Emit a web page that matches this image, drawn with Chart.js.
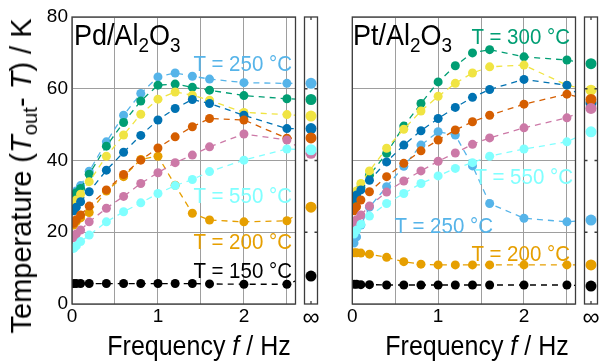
<!DOCTYPE html>
<html>
<head>
<meta charset="utf-8">
<script src="https://cdn.jsdelivr.net/npm/chart.js@4.4.1/dist/chart.umd.min.js"></script>
<style>
  body { margin: 0; background: #fff; }
  #fig { position: relative; width: 603px; height: 363px; overflow: hidden; font-family: "Liberation Sans", Arial, sans-serif; }
  canvas { position: absolute; top: 0; }
  .lbl { position: absolute; white-space: nowrap; }
  .ann { font-size: 20.5px; line-height: 20px; text-align: right; transform: scaleY(1.12); }
  .panel { font-size: 27px; line-height: 27px; transform: scaleY(1.08); }
  .sb { font-size: 70%; position: relative; top: 7px; }
  .xt { font-size: 25px; line-height: 25px; top: 333px; transform: translateX(-50%) scaleY(1.1); }
  .yt { font-size: 29px; line-height: 29px; left: 23px; top: 176px; transform: translate(-50%, -50%) rotate(-90deg); }
  .yt .so { font-size: 70%; position: relative; top: 6px; }
</style>
</head>
<body>
<div id="fig">
  <canvas id="pdMain" width="300" height="340" style="left:0"></canvas>
  <canvas id="pdInf" width="24" height="340" style="left:299px"></canvas>
  <canvas id="ptMain" width="234" height="340" style="left:346px"></canvas>
  <canvas id="ptInf" width="24" height="340" style="left:579px"></canvas>

  <div class="lbl panel" style="left:74px;top:22px">Pd/Al<span class="sb">2</span>O<span class="sb">3</span></div>
  <div class="lbl panel" style="left:353px;top:22px">Pt/Al<span class="sb">2</span>O<span class="sb">3</span></div>

  <div class="lbl ann" style="right:311px;top:53px;color:#56B4E9">T = 250 °C</div>
  <div class="lbl ann" style="right:311px;top:185px;color:#80FFFF">T = 550 °C</div>
  <div class="lbl ann" style="right:311px;top:231px;color:#E69F00">T = 200 °C</div>
  <div class="lbl ann" style="right:311px;top:260px;color:#000">T = 150 °C</div>

  <div class="lbl ann" style="right:33px;top:26px;color:#009E73">T = 300 °C</div>
  <div class="lbl ann" style="right:30px;top:166px;color:#80FFFF">T = 550 °C</div>
  <div class="lbl ann" style="right:110px;top:215px;color:#56B4E9">T = 250 °C</div>
  <div class="lbl ann" style="right:33px;top:243px;color:#E69F00">T = 200 °C</div>

  <div class="lbl xt" style="left:199px">Frequency <i>f</i> / Hz</div>
  <div class="lbl xt" style="left:477px">Frequency <i>f</i> / Hz</div>
  <div class="lbl yt">Temperature (<i>T</i><span class="so">out</span>- <i>T</i>) / K</div>
</div>
<script>
// modulation frequency in Hz
const freq = [0.02, 0.05, 0.1, 0.2, 0.4, 0.6, 0.8, 1.0, 1.2, 1.4, 1.6, 2.0, 2.5];
const temps = [150, 200, 250, 300, 350, 400, 450, 500, 550];
const colors = ['#000000', '#E69F00', '#56B4E9', '#009E73', '#F0E442', '#0072B2', '#D55E00', '#CC79A7', '#80FFFF'];
const yTicks = [20, 40, 60];
// the f = infinity sample sits past the end of the main axis, so only its line stub shows there
const infPos = 2.75;

// Pd/Al2O3, T_out - T in K
const pd150 = [5.7, 5.7, 5.7, 5.7, 5.7, 5.7, 5.7, 5.7, 5.7, 5.7, 5.6, 5.5, 5.5];
const pd200 = [22, 23, 24, 25.5, 31.5, 35.5, 40.3, 41.2, 33.1, 25.3, 23.4, 22.9, 23.2];
const pd250 = [30.5, 31.5, 33, 37, 45.2, 52.6, 58.7, 63.3, 64.4, 63.5, 62.7, 61.7, 61.5];
const pd300 = [30, 31, 32.2, 36.2, 44, 50.6, 56.6, 61, 61.3, 60.4, 59.6, 58.1, 57.2];
const pd350 = [28, 29, 30.6, 34.1, 41.2, 47.1, 52.9, 57.1, 59.1, 58.2, 56.8, 53.4, 52.8];
const pd400 = [26, 27, 28.5, 31.3, 37.3, 42.3, 47, 51.3, 54.5, 57, 55.9, 52.6, 48.9];
const pd450 = [22.5, 23.5, 24.8, 27.3, 31.8, 36.1, 40.1, 43.5, 46.6, 49.4, 51.7, 51.3, 46.2];
const pd500 = [18.5, 19.5, 20.6, 22.9, 26.7, 30, 33.6, 36.6, 39.4, 41.5, 43.8, 47.4, 45.7];
const pd550 = [15.5, 16.2, 17.4, 19.2, 22.9, 25.7, 28.2, 30.8, 33, 34.7, 36.9, 40.1, 43.2];
const pdInf = [7.8, 27, 61.5, 57, 52.4, 48.9, 46.3, 42, 43];

// Pt/Al2O3, T_out - T in K
const pt150 = [5.5, 5.5, 5.4, 5.4, 5.3, 5.3, 5.3, 5.3, 5.3, 5.3, 5.3, 5.3, 5.3];
const pt200 = [14.3, 14.3, 14.2, 13.9, 13, 11.8, 11.1, 10.9, 10.9, 10.9, 10.9, 10.9, 10.9];
const pt250 = [17, 18.7, 22, 27, 32.7, 38.4, 44.3, 48, 47.1, 38.5, 28, 23.9, 22.9];
const pt300 = [29, 30.5, 32.5, 35.9, 42, 49.6, 55.9, 61.9, 66.4, 70, 70.9, 68.9, 68];
const pt350 = [30, 31.5, 33.6, 37.1, 43.4, 48.7, 53.8, 57.9, 61.5, 64.4, 66.1, 66.6, 61];
const pt400 = [29.5, 30.4, 31.8, 34.5, 39.6, 44.3, 48.3, 51.7, 54.8, 57.6, 59.8, 62.6, 61];
const pt450 = [26, 27.1, 29, 31.3, 35.5, 39.2, 42.7, 45.7, 48.5, 50.8, 52.6, 55.7, 58.5];
const pt500 = [22.5, 23.5, 24.8, 27.3, 31.2, 34.3, 37.1, 39.8, 42.1, 44.5, 46.3, 49.1, 51.9];
const pt550 = [19.5, 20.6, 22.2, 24.5, 28, 30.8, 33.6, 35.7, 37.8, 39.4, 41.2, 43.2, 45.2];
const ptInf = [5.0, 10.9, 23.4, 67, 59.6, 56, 57, 54.5, 48];

Chart.defaults.font.family = '"Liberation Sans", Arial, sans-serif';
Chart.defaults.color = '#000';

const gridColor = '#9e9e9e';

// box around each plot, plus the little inward ticks on the infinity panels
const frame = {
    id: 'frame',
    afterDatasetsDraw(chart, args, opts) {
        const { ctx, chartArea: a } = chart;
        ctx.save();
        ctx.strokeStyle = '#3c3c3c';
        ctx.lineWidth = 1.3;
        ctx.strokeRect(a.left, a.top, a.width, a.height);
        if (opts.ticks) {
            const y = chart.scales.y;
            const cx = (a.left + a.right) / 2;
            ctx.beginPath();
            yTicks.forEach(v => {
                const py = y.getPixelForValue(v);
                ctx.moveTo(a.left, py); ctx.lineTo(a.left + 3, py);
                ctx.moveTo(a.right, py); ctx.lineTo(a.right - 3, py);
            });
            ctx.moveTo(cx, a.top); ctx.lineTo(cx, a.top + 3);
            ctx.moveTo(cx, a.bottom); ctx.lineTo(cx, a.bottom - 3);
            ctx.stroke();
        }
        ctx.restore();
    }
};

function mainChart(id, series, inf, showY) {
    const datasets = series.map((vals, i) => ({
        label: 'T = ' + temps[i] + ' °C',
        data: freq.map((f, j) => ({ x: f, y: vals[j] })).concat({ x: infPos, y: inf[i] }),
        borderColor: colors[i],
        backgroundColor: colors[i],
        borderWidth: 1.3,
        borderDash: [6, 5],
        pointRadius: 4.5,
        pointBorderWidth: 0,
        order: -i
    }));
    return new Chart(document.getElementById(id), {
        type: 'line',
        data: { datasets },
        options: {
            responsive: false,
            animation: false,
            layout: { padding: showY ? { top: 17, right: 4 } : { top: 17, left: 5, right: 4 } },
            plugins: { legend: { display: false }, tooltip: { enabled: false }, frame: {} },
            scales: {
                x: {
                    type: 'linear', min: 0, max: 2.6,
                    grid: { color: gridColor, drawTicks: false },
                    border: { display: false },
                    ticks: {
                        stepSize: 0.5, includeBounds: false, autoSkip: false, maxRotation: 0,
                        padding: 1, font: { size: 19 },
                        callback: v => Number.isInteger(v) ? v : ''
                    },
                    afterFit: s => { s.height = 36; }
                },
                y: {
                    min: 0, max: 80,
                    grid: { color: gridColor, drawTicks: false },
                    border: { display: false },
                    ticks: { stepSize: 20, display: showY, padding: 4, font: { size: 19 } },
                    afterFit: s => { s.width = showY ? 72 : 0; }
                }
            }
        },
        plugins: [frame]
    });
}

function infChart(id, inf) {
    return new Chart(document.getElementById(id), {
        type: 'line',
        data: {
            labels: ['∞'],
            datasets: inf.map((v, i) => ({
                data: [v],
                borderColor: colors[i],
                backgroundColor: colors[i],
                showLine: false,
                pointRadius: 5.5,
                pointBorderWidth: 0,
                order: -i
            }))
        },
        options: {
            responsive: false,
            animation: false,
            layout: { padding: { top: 17, left: 2, right: 2 } },
            plugins: { legend: { display: false }, tooltip: { enabled: false }, frame: { ticks: true } },
            scales: {
                x: {
                    offset: true,
                    grid: { display: false, drawTicks: false },
                    border: { display: false },
                    ticks: { padding: 0, maxRotation: 0, font: { size: 24 } },
                    afterFit: s => { s.height = 36; }
                },
                y: { display: false, min: 0, max: 80 }
            }
        },
        plugins: [frame]
    });
}

mainChart('pdMain', [pd150, pd200, pd250, pd300, pd350, pd400, pd450, pd500, pd550], pdInf, true);
infChart('pdInf', pdInf);
mainChart('ptMain', [pt150, pt200, pt250, pt300, pt350, pt400, pt450, pt500, pt550], ptInf, false);
infChart('ptInf', ptInf);
</script>
</body>
</html>
